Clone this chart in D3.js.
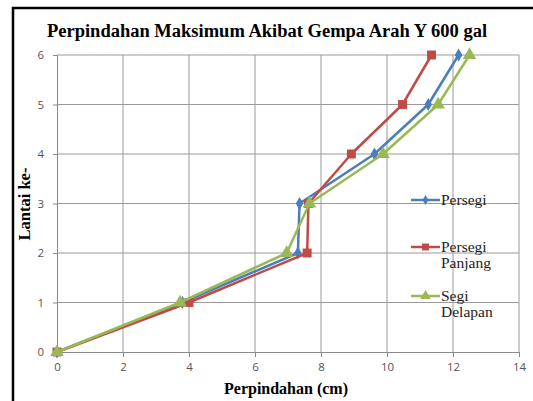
<!DOCTYPE html>
<html>
<head>
<meta charset="utf-8">
<script src="https://cdn.jsdelivr.net/npm/d3@7"></script>
<style>
  body { margin: 0; background: #fff; }
  svg { display: block; }
</style>
</head>
<body>
<div id="chart"></div>
<script>
// lantai (floor) levels, shared by all series
const floors = [0, 1, 2, 3, 4, 5, 6];
// max displacement (cm) per floor
const persegi = [0, 3.8, 7.3, 7.35, 9.62, 11.25, 12.17];
const persegiPanjang = [0, 4.0, 7.58, 7.62, 8.92, 10.47, 11.35];
const segiDelapan = [0, 3.73, 6.96, 7.65, 9.88, 11.55, 12.5];
const seriesNames = ['Persegi', 'Persegi Panjang', 'Segi Delapan'];
const seriesColors = ['#4a7ebb', '#be4b48', '#98b954'];
const xTicks = [0, 2, 4, 6, 8, 10, 12, 14];
const yTicks = [0, 1, 2, 3, 4, 5, 6];

const serif = 'Liberation Serif';

const width = 533;
const height = 401;
const plot = {left: 57, right: 519, top: 55, bottom: 352};

const svg = d3.select('#chart').append('svg')
    .attr('width', width)
    .attr('height', height);

// chart frame
svg.append('rect')
    .attr('x', 13).attr('y', 8)
    .attr('width', width + 10).attr('height', height + 10)
    .attr('fill', '#fff')
    .attr('stroke', '#000')
    .attr('stroke-width', 2.5);

const x = d3.scaleLinear().domain([0, 14]).range([plot.left, plot.right]);
const y = d3.scaleLinear().domain([0, 6]).range([plot.bottom, plot.top]);

// gridlines
const grid = svg.append('g').attr('class', 'grid');
grid.selectAll('line.v').data(xTicks.slice(1)).join('line')
    .attr('class', 'v')
    .attr('x1', d => x(d)).attr('x2', d => x(d))
    .attr('y1', plot.top).attr('y2', plot.bottom)
    .attr('stroke', '#9a9a9a').attr('stroke-width', 1);
grid.selectAll('line.h').data(yTicks.slice(1)).join('line')
    .attr('class', 'h')
    .attr('x1', plot.left).attr('x2', plot.right)
    .attr('y1', d => y(d)).attr('y2', d => y(d))
    .attr('stroke', '#9a9a9a').attr('stroke-width', 1);

// axes
const xAxis = svg.append('g')
    .attr('transform', `translate(0,${plot.bottom})`)
    .call(d3.axisBottom(x).tickValues(xTicks).tickFormat(d3.format('d')).tickSize(5).tickPadding(6));
const yAxis = svg.append('g')
    .attr('transform', `translate(${plot.left},0)`)
    .call(d3.axisLeft(y).tickValues(yTicks).tickFormat(d3.format('d')).tickSize(4).tickPadding(9));

[xAxis, yAxis].forEach((axis) => {
    axis.attr('font-family', 'Open Sans').attr('font-size', 11.5);
    axis.select('.domain').attr('stroke', '#8a8a8a');
    axis.selectAll('.tick line').attr('stroke', '#8a8a8a');
    axis.selectAll('.tick text').attr('fill', '#555');
});

// series
const data = [persegi, persegiPanjang, segiDelapan].map((vals, i) => ({
    name: seriesNames[i],
    color: seriesColors[i],
    points: vals.map((v, j) => ({x: v, y: floors[j]})),
}));

const line = d3.line().x(d => x(d.x)).y(d => y(d.y));
const symbols = [d3.symbolDiamond, d3.symbolSquare, d3.symbolTriangle];
const symbolSizes = [50, 80, 80];

const seriesG = svg.append('g').attr('class', 'series');
data.forEach((s, i) => {
    const g = seriesG.append('g');
    g.append('path')
        .attr('d', line(s.points))
        .attr('fill', 'none')
        .attr('stroke', s.color)
        .attr('stroke-width', 2.5)
        .attr('stroke-linejoin', 'round');
    g.selectAll('path.mark').data(s.points).join('path')
        .attr('class', 'mark')
        .attr('transform', d => `translate(${x(d.x)},${y(d.y)})`)
        .attr('d', d3.symbol().type(symbols[i]).size(symbolSizes[i]))
        .attr('fill', s.color);
});

// legend
const legendRows = [200, 247, 296];
const legend = svg.append('g').attr('class', 'legend');
data.forEach((s, i) => {
    const g = legend.append('g').attr('transform', `translate(411,${legendRows[i]})`);
    g.append('line')
        .attr('x1', 0).attr('x2', 29)
        .attr('stroke', s.color).attr('stroke-width', 2.5);
    g.append('path')
        .attr('transform', 'translate(14.5,0)')
        .attr('d', d3.symbol().type(symbols[i]).size(symbolSizes[i] * 0.6))
        .attr('fill', s.color);
    const words = s.name.split(' ');
    const t = g.append('text')
        .attr('font-family', serif)
        .attr('font-size', 15.5)
        .attr('x', 30).attr('y', 5)
        .attr('fill', '#222');
    words.forEach((w, k) => {
        t.append('tspan').attr('x', 30).attr('dy', k === 0 ? 0 : 15.5).text(w);
    });
});

// titles
svg.append('text')
    .attr('font-family', serif)
    .attr('font-weight', 'bold')
    .attr('font-size', 18.5)
    .attr('x', 267).attr('y', 37)
    .attr('text-anchor', 'middle')
    .text('Perpindahan Maksimum Akibat Gempa Arah Y 600 gal');

svg.append('text')
    .attr('font-family', serif)
    .attr('font-weight', 'bold')
    .attr('font-size', 16)
    .attr('x', 286).attr('y', 394)
    .attr('text-anchor', 'middle')
    .text('Perpindahan (cm)');

svg.append('text')
    .attr('font-family', serif)
    .attr('font-weight', 'bold')
    .attr('font-size', 16.5)
    .attr('transform', 'translate(30,204) rotate(-90)')
    .attr('text-anchor', 'middle')
    .text('Lantai ke-');
</script>
</body>
</html>
